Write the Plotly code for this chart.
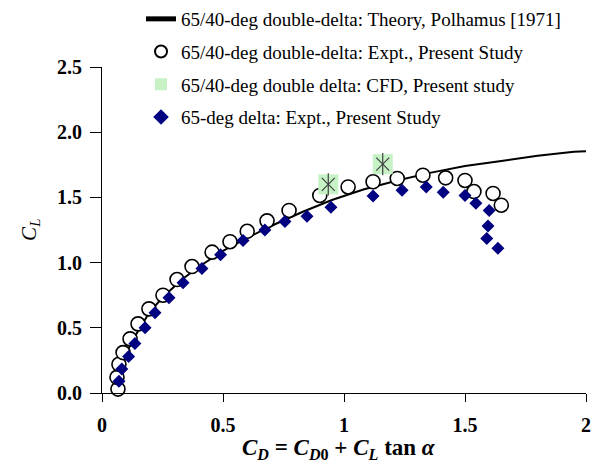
import plotly.graph_objects as go

# Theory curve (Polhamus 1971)
theory_cd = [0.07, 0.075, 0.085, 0.10, 0.125, 0.16, 0.20, 0.26, 0.33, 0.41, 0.50, 0.60, 0.71, 0.83, 0.95, 1.08, 1.22, 1.36, 1.50, 1.65, 1.80, 1.95, 2.06]
theory_cl = [0.0, 0.10, 0.20, 0.30, 0.40, 0.51, 0.63, 0.75, 0.87, 0.98, 1.09, 1.19, 1.29, 1.39, 1.48, 1.56, 1.63, 1.69, 1.74, 1.78, 1.82, 1.85, 1.86]

# 65/40-deg double-delta experiment
dd_cd = [0.066, 0.062, 0.07, 0.087, 0.116, 0.149, 0.194, 0.252, 0.31, 0.372, 0.455, 0.529, 0.60, 0.682, 0.773, 0.90,
         1.017, 1.12, 1.22, 1.326, 1.42, 1.50, 1.537, 1.616, 1.65]
dd_cl = [0.03, 0.12, 0.22, 0.31, 0.415, 0.53, 0.645, 0.75, 0.87, 0.97, 1.08, 1.16, 1.24, 1.32, 1.40, 1.515,
         1.58, 1.62, 1.645, 1.67, 1.65, 1.63, 1.545, 1.53, 1.44]

# CFD
cfd_cd = [0.935, 1.16]
cfd_cl = [1.60, 1.755]

# 65-deg delta experiment
d_cd = [0.07, 0.082, 0.11, 0.136, 0.178, 0.219, 0.277, 0.335, 0.413, 0.49, 0.583, 0.673, 0.756, 0.847, 0.946,
        1.12, 1.24, 1.34, 1.41, 1.50, 1.545, 1.60, 1.595, 1.59, 1.636]
d_cl = [0.09, 0.185, 0.28, 0.38, 0.50, 0.615, 0.73, 0.845, 0.955, 1.06, 1.17, 1.25, 1.315, 1.355, 1.425,
        1.51, 1.555, 1.58, 1.54, 1.515, 1.455, 1.40, 1.28, 1.185, 1.11]

x_ticks = [0, 0.5, 1, 1.5, 2]
x_tick_labels = ["0", "0.5", "1", "1.5", "2"]
y_ticks = [0, 0.5, 1.0, 1.5, 2.0, 2.5]
y_tick_labels = ["0.0", "0.5", "1.0", "1.5", "2.0", "2.5"]

SERIF = "Liberation Serif, Times New Roman, serif"

fig = go.Figure()
fig.add_trace(go.Scatter(x=theory_cd, y=theory_cl, mode="lines", line=dict(color="black", width=2),
                         name="65/40-deg double-delta: Theory, Polhamus [1971]", legendgroup="a"))
fig.add_trace(go.Scatter(x=dd_cd, y=dd_cl, mode="markers",
                         marker=dict(symbol="circle", size=14, color="white", line=dict(color="black", width=1.6)),
                         name="65/40-deg double-delta: Expt., Present Study", legendgroup="b"))
fig.add_trace(go.Scatter(x=cfd_cd, y=cfd_cl, mode="markers",
                         marker=dict(symbol="square", size=20, color="#c6f2c6", line=dict(width=0)),
                         name="65/40-deg double delta: CFD, Present study", legendgroup="c"))
fig.add_trace(go.Scatter(x=cfd_cd, y=cfd_cl, mode="markers", showlegend=False, legendgroup="c",
                         marker=dict(symbol="x-thin-open", size=13, color="#404040", line=dict(color="#404040", width=1.2))))
fig.add_trace(go.Scatter(x=cfd_cd, y=cfd_cl, mode="markers", showlegend=False, legendgroup="c",
                         marker=dict(symbol="line-ns-open", size=16, color="#404040", line=dict(color="#404040", width=1.2))))
fig.add_trace(go.Scatter(x=d_cd, y=d_cl, mode="markers",
                         marker=dict(symbol="diamond", size=10, color="#000080", line=dict(width=0)),
                         name="65-deg delta: Expt., Present Study", legendgroup="d"))

fig.update_layout(
    width=606, height=468,
    margin=dict(l=102, r=20, t=67, b=75, autoexpand=False),
    plot_bgcolor="white", paper_bgcolor="white",
    font=dict(family=SERIF, color="black"),
    legend=dict(x=0.2327, y=1.004, xref="container", yref="container", xanchor="left", yanchor="top",
                bgcolor="rgba(0,0,0,0)",
                font=dict(family=SERIF, size=19, color="black"), tracegroupgap=5,
                traceorder="grouped", itemsizing="constant"),
    xaxis=dict(range=[0, 2], tickvals=x_ticks, ticktext=["<b>%s</b>" % t for t in x_tick_labels],
               showline=True, linecolor="black",
               linewidth=1, ticks="outside", ticklen=8, tickcolor="black", showgrid=False, zeroline=False,
               tickfont=dict(family=SERIF, size=20, color="black"), ticklabelstandoff=6),
    yaxis=dict(range=[0, 2.5], tickvals=y_ticks, ticktext=["<b>%s</b>" % t for t in y_tick_labels],
               showline=True, linecolor="black",
               linewidth=1, ticks="outside", ticklen=11, tickcolor="black", showgrid=False, zeroline=False,
               tickfont=dict(family=SERIF, size=20, color="black"), ticklabelstandoff=4),
    annotations=[
        dict(text="<i>C</i><sub><i>L</i></sub>", xref="paper", yref="paper", x=-0.18, y=0.5,
             textangle=-90, showarrow=False, font=dict(family=SERIF, size=21, color="black")),
        dict(text="<b><i>C</i><sub><i>D</i></sub> = <i>C</i><sub><i>D</i>0</sub> + <i>C</i><sub><i>L</i></sub> tan <i>α</i></b>",
             xref="paper", yref="paper", x=0.49, y=-0.172, yanchor="middle", showarrow=False,
             font=dict(family=SERIF, size=23, color="black")),
    ],
)
for tr in fig.data:
    tr.cliponaxis = False

fig.write_html("out.html")
